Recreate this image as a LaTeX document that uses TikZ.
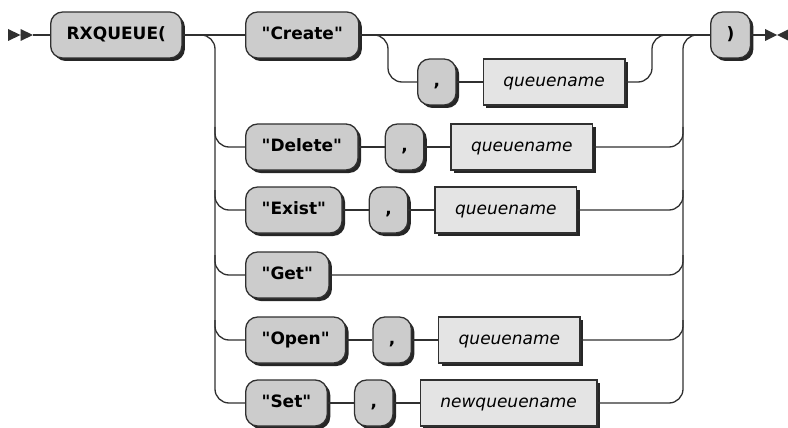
\documentclass[tikz,border=0pt]{standalone}
\usepackage{fontspec}
\setmainfont{DejaVu Sans}[Ligatures=TeXOff]
\usetikzlibrary{positioning,shadows,calc}
\definecolor{termfill}{HTML}{CCCCCC}
\definecolor{ntfill}{HTML}{E4E4E4}
\definecolor{railcol}{HTML}{303030}
\tikzset{
  rail/.style={draw=railcol,line width=1.3pt,rounded corners=14pt},
  boxbase/.style={draw=railcol,line width=1.3pt,minimum height=46pt,
    text height=12.5pt,text depth=3.5pt,
    drop shadow={shadow xshift=3pt,shadow yshift=-3pt,opacity=1,fill=black!85}},
  term/.style={boxbase,fill=termfill,rounded corners=12pt,inner xsep=16pt,
    font=\fontsize{17}{20}\selectfont\bfseries},
  nonterm/.style={boxbase,fill=ntfill,inner xsep=20pt,
    font=\fontsize{17}{20}\selectfont\itshape},
}
\begin{document}
\begin{tikzpicture}[x=1pt,y=-1pt,node distance=26pt]
\useasboundingbox (0,0) rectangle (788,428);
% start and end marks
\fill[railcol] (8,29) -- (20.5,35) -- (8,41) -- cycle (20.5,29) -- (33,35) -- (20.5,41) -- cycle;
\fill[railcol] (765,29) -- (777,35) -- (765,41) -- cycle (789,29) -- (777,35) -- (789,41) -- cycle;
\coordinate (start) at (33,35);
\coordinate (finish) at (765,35);
\coordinate (lbar) at (215,35);
\coordinate (rbar) at (683,35);
\coordinate (csplit) at (388,35);
\coordinate (cjoin) at (652,35);

\node[term,anchor=west] (rx) at (50,35) {RXQUEUE(};
\node[term,anchor=west] (close) at (710,35) {)};

% rows
\node[term,anchor=west] (create) at (245,35) {"Create"};
\node[term,anchor=west] (comA) at (417,82) {,};
\node[nonterm,right=of comA] (qnA) {queuename};

\node[term,anchor=west] (delete) at (245,147) {"Delete"};
\node[term,right=of delete] (comB) {,};
\node[nonterm,right=of comB] (qnB) {queuename};

\node[term,anchor=west] (exist) at (245,210) {"Exist"};
\node[term,right=of exist] (comC) {,};
\node[nonterm,right=of comC] (qnC) {queuename};

\node[term,anchor=west] (get) at (245,275) {"Get"};

\node[term,anchor=west] (open) at (245,340) {"Open"};
\node[term,right=of open] (comE) {,};
\node[nonterm,right=of comE] (qnE) {queuename};

\node[term,anchor=west] (setq) at (245,403) {"Set"};
\node[term,right=of setq] (comF) {,};
\node[nonterm,right=of comF] (newqn) {newqueuename};

% connectors
\draw[rail] (start) -- (rx.west);
\draw[rail] (rx.east) -- (create.west);
\draw[rail] (create.east) -- (close.west);
\draw[rail] (close.east) -- (finish);
\draw[rail] (rx.east) -| (lbar |- setq.west) -- (setq.west);
\foreach \n in {delete,exist,get,open}
  \draw[rail] ($(lbar |- \n.west)+(0,-20)$) |- (\n.west);
\draw[rail] (create.east) -| (csplit |- comA.west) -- (comA.west);
\draw[rail] (comA) -- (qnA);
\draw[rail] (qnA.east) -| (cjoin) -- (close.west);
\draw[rail] (delete) -- (comB) -- (qnB);
\draw[rail] (exist) -- (comC) -- (qnC);
\draw[rail] (open) -- (comE) -- (qnE);
\draw[rail] (setq) -- (comF) -- (newqn);
\draw[rail] (newqn.east) -| (rbar) -- (close.west);
\foreach \n in {qnB,qnC,get,qnE}
  \draw[rail] (\n.east) -| ($(rbar |- \n.east)+(0,-20)$);
\end{tikzpicture}
\end{document}
